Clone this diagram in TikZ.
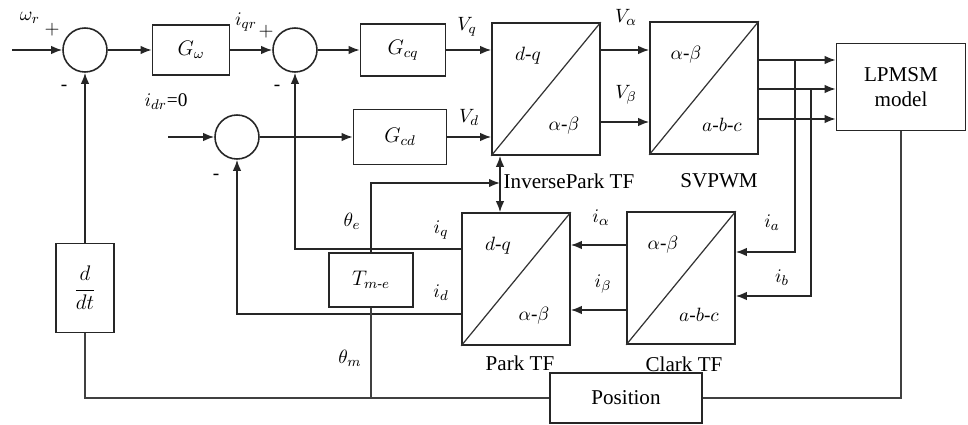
\documentclass[tikz,border=0pt]{standalone}
\usepackage{amsmath}
\usepackage{fontspec}
\setmainfont{Liberation Serif}
\usetikzlibrary{arrows.meta,calc}

\begin{document}
\begin{tikzpicture}[
  x=0.2mm, y=-0.2mm,
  font=\fontsize{12}{14}\selectfont,
  blk/.style={draw=black!85, line width=0.9pt, minimum width=#1, minimum height=10.4mm,
              inner sep=1pt, align=center},
  sumnode/.style={circle, draw=black!85, line width=0.9pt, minimum size=8.8mm, inner sep=0pt},
  tf/.style={draw=black!85, line width=0.9pt, minimum width=21.6mm, minimum height=26.4mm,
             inner sep=0pt},
  sig/.style={-{Latex[length=2.2mm,width=1.7mm]}, line width=0.9pt, draw=black!85},
  wire/.style={line width=0.9pt, draw=black!75},
  lbl/.style={font=\fontsize{11}{13}\selectfont, inner sep=1pt},
  captxt/.style={font=\fontsize{12}{14}\selectfont, inner sep=1pt},
]
\useasboundingbox (0,0) rectangle (968,425);

% #1 node-id, #2 x, #3 y, #4 upper-left frame, #5 lower-right frame
\newcommand{\tfbox}[5]{%
  \node[tf] (#1) at (#2,#3) {};
  \draw[line width=0.7pt, black!80] (#1.south west) -- (#1.north east);
  \node[lbl] at ($(#1.center)+(-18,-33)$) {#4};
  \node[lbl] at ($(#1.center)+(18,37)$) {#5};
}

% speed and current loops
\node[sumnode] (sumA) at (85,50) {};
\node[blk=15.4mm, minimum height=10mm] (Gw) at (191,50) {$G_{\omega}$};
\node[sumnode] (sumB) at (295,50) {};
\node[blk=17mm] (Gcq) at (403,50) {$G_{cq}$};
\node[sumnode] (sumC) at (237,137) {};
\node[blk=18.6mm, minimum height=11mm] (Gcd) at (400,137) {$G_{cd}$};

% transforms
\tfbox{invpark}{546}{89}{$d$-$q$}{$\alpha$-$\beta$}
\tfbox{svpwm}{704}{88}{$\alpha$-$\beta$}{$a$-$b$-$c$}
\tfbox{park}{516}{279}{$d$-$q$}{$\alpha$-$\beta$}
\tfbox{clark}{681}{278}{$\alpha$-$\beta$}{$a$-$b$-$c$}

\node[blk=25.8mm, minimum height=17.4mm] (lpmsm) at (901,87) {LPMSM\\model};
\node[blk=16.8mm, minimum height=10.8mm] (Tme) at (371,280) {$T_{m\text{-}e}$};
\node[blk=11.6mm, minimum height=17.8mm] (ddt) at (85,288) {$\dfrac{d}{dt}$};
\node[blk=30.4mm, minimum height=10mm] (position) at (626,398) {Position};

% captions
\node[captxt] at (569,181) {InversePark TF};
\node[captxt] at (719,181) {SVPWM};
\node[captxt] at (520,363) {Park TF};
\node[captxt] at (684,364) {Clark TF};

% rows and branch points
\coordinate (inA) at (12,50);
\coordinate (inC) at (168,137);
\coordinate (rowVb) at (0,122);
\coordinate (rowA) at (0,60);
\coordinate (rowB) at (0,89);
\coordinate (rowC) at (0,119);
\coordinate (brA) at (795,60);
\coordinate (brB) at (811,89);
\coordinate (rowIa) at (0,252);
\coordinate (rowIb) at (0,296);
\coordinate (rowIal) at (0,245);
\coordinate (rowIbe) at (0,310);
\coordinate (rowIq) at (0,249);
\coordinate (rowId) at (0,314);
\coordinate (thj) at (500,183);

% forward path
\draw[sig] (inA) -- (sumA);
\draw[sig] (sumA) -- (Gw);
\draw[sig] (Gw) -- (sumB);
\draw[sig] (sumB) -- (Gcq);
\draw[sig] (Gcq) -- (Gcq -| invpark.west);
\draw[sig] (inC) -- (sumC);
\draw[sig] (sumC) -- (Gcd);
\draw[sig] (Gcd) -- (Gcd -| invpark.west);
\draw[sig] (invpark.east |- Gcq) -- (svpwm.west |- Gcq);
\draw[sig] (invpark.east |- rowVb) -- (svpwm.west |- rowVb);
\draw[sig] (svpwm.east |- rowA) -- (lpmsm.west |- rowA);
\draw[sig] (svpwm.east |- rowB) -- (lpmsm.west |- rowB);
\draw[sig] (svpwm.east |- rowC) -- (lpmsm.west |- rowC);

% current feedback
\draw[sig] (brA) -- (brA |- rowIa) -- (clark.east |- rowIa);
\draw[sig] (brB) -- (brB |- rowIb) -- (clark.east |- rowIb);
\draw[sig] (clark.west |- rowIal) -- (park.east |- rowIal);
\draw[sig] (clark.west |- rowIbe) -- (park.east |- rowIbe);
\draw[sig] (park.west |- rowIq) -| (sumB.south);
\draw[sig] (park.west |- rowId) -| (sumC.south);

% angle and speed feedback
\draw[sig] (Tme.north) |- (thj);
\draw[sig] (thj) -- (thj |- invpark.south);
\draw[sig] (thj) -- (thj |- park.north);
\draw[wire] (lpmsm.south) |- (position.east);
\draw[wire] (position.west) -| (ddt.south);
\draw[wire] (Tme.south) -- (Tme.south |- position.west);
\draw[sig] (ddt.north) -- (sumA.south);

% signal labels
\node[lbl] at (30,18) {$\omega_r$};
\node[lbl] at (52,30) {$+$};
\node[lbl] at (64,88) {-};
\node[lbl] at (246,22) {$i_{qr}$};
\node[lbl] at (266,32) {$+$};
\node[lbl] at (277,88) {-};
\node[lbl] at (166,102) {$i_{dr}$=0};
\node[lbl] at (216,177) {-};
\node[lbl] at (467,27) {$V_q$};
\node[lbl] at (469,117) {$V_d$};
\node[lbl] at (626,17) {$V_\alpha$};
\node[lbl] at (626,95) {$V_\beta$};
\node[lbl] at (352,221) {$\theta_e$};
\node[lbl] at (350,358) {$\theta_m$};
\node[lbl] at (441,230) {$i_q$};
\node[lbl] at (441,293) {$i_d$};
\node[lbl] at (601,218) {$i_\alpha$};
\node[lbl] at (603,284) {$i_\beta$};
\node[lbl] at (772,223) {$i_a$};
\node[lbl] at (782,278) {$i_b$};

\end{tikzpicture}
\end{document}
